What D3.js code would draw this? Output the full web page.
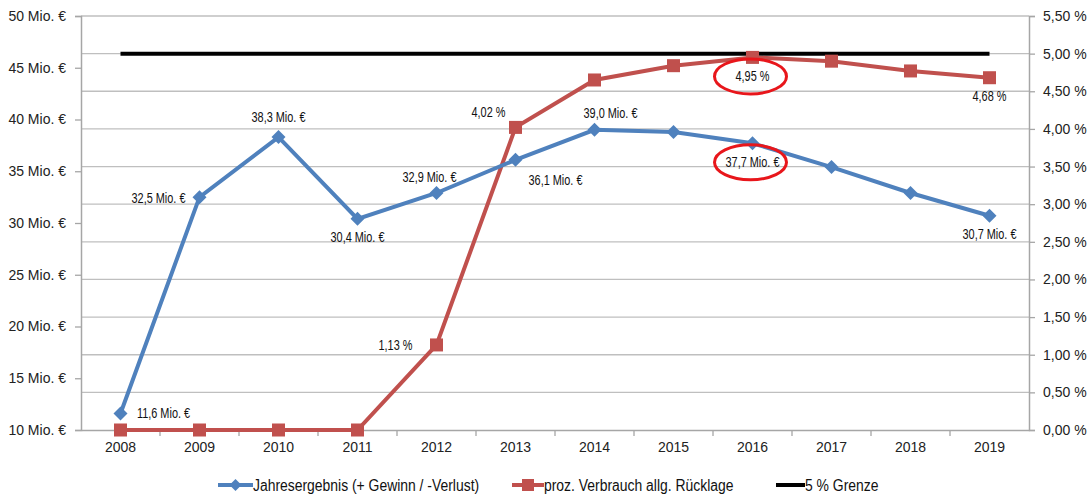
<!DOCTYPE html>
<html>
<head>
<meta charset="utf-8">
<script src="https://cdn.jsdelivr.net/npm/d3@7"></script>
<style>
  body { margin: 0; background: #fff; }
  svg { display: block; font-family: "Liberation Sans", Arial, sans-serif; }
</style>
</head>
<body>
<div id="chart"></div>
<script>
// Data
const years = ['2008', '2009', '2010', '2011', '2012', '2013', '2014', '2015', '2016', '2017', '2018', '2019'];
const ergebnis = [11.6, 32.5, 38.3, 30.4, 32.9, 36.1, 39.0, 38.8, 37.7, 35.4, 32.9, 30.7];
const verbrauch = [0, 0, 0, 0, 1.13, 4.02, 4.65, 4.84, 4.95, 4.90, 4.77, 4.68];
const grenze = years.map(() => 5);
const leftTicks = [10, 15, 20, 25, 30, 35, 40, 45, 50];
const rightTicks = [0, 0.5, 1, 1.5, 2, 2.5, 3, 3.5, 4, 4.5, 5, 5.5];
const legendNames = ['Jahresergebnis (+ Gewinn / -Verlust)', 'proz. Verbrauch allg. Rücklage', '5 % Grenze'];

// which points carry a label, and where the label sits
const ergebnisLabels = [
  { year: '2008', at: 'right' }, { year: '2009', at: 'left' }, { year: '2010', at: 'above' },
  { year: '2011', at: 'below' }, { year: '2012', at: 'aboveleft' }, { year: '2013', at: 'belowright' },
  { year: '2014', at: 'aboveright' }, { year: '2016', at: 'below', circled: true }, { year: '2019', at: 'below' }
];
const verbrauchLabels = [
  { year: '2012', at: 'left' }, { year: '2013', at: 'aboveleftfar' },
  { year: '2016', at: 'below', circled: true }, { year: '2019', at: 'below' }
];

const W = 1089, H = 494;
const plot = { left: 81, right: 1029, top: 16, bottom: 430 };
const blue = '#4f81bd', red = '#c0504d', grid = '#bfbfbf', axisCol = '#a6a6a6';

const svg = d3.select('#chart').append('svg').attr('width', W).attr('height', H);

const x = d3.scaleBand().domain(years).range([plot.left, plot.right]);
const cx = d3.scalePoint().domain(years).range([plot.left + x.bandwidth() / 2, plot.right - x.bandwidth() / 2]);
const yL = d3.scaleLinear().domain([10, 50]).range([plot.bottom, plot.top]);
const yR = d3.scaleLinear().domain([0, 5.5]).range([plot.bottom, plot.top]);

const fmt1 = d3.format('.1f');
const fmt2 = d3.format('.2f');
const de = s => s.replace('.', ',');

// gridlines (follow right axis)
svg.append('g').selectAll('line')
  .data(rightTicks.filter(d => d > 0))
  .join('line')
  .attr('x1', plot.left).attr('x2', plot.right)
  .attr('y1', d => yR(d)).attr('y2', d => yR(d))
  .attr('stroke', grid).attr('stroke-width', 1.3);

// left axis
const gL = svg.append('g').attr('transform', `translate(${plot.left},0)`)
  .call(d3.axisLeft(yL).tickValues(leftTicks).tickSize(6).tickPadding(9).tickFormat(d => `${d} Mio. €`));
// right axis
const gR = svg.append('g').attr('transform', `translate(${plot.right},0)`)
  .call(d3.axisRight(yR).tickValues(rightTicks).tickSize(6).tickPadding(8).tickFormat(d => `${de(fmt2(d))} %`));
// bottom axis: ticks between categories
const gB = svg.append('g').attr('transform', `translate(0,${plot.bottom})`)
  .call(d3.axisBottom(x).tickSize(0).tickPadding(12));
gB.append('g').selectAll('line')
  .data(years.slice(1))
  .join('line')
  .attr('x1', d => x(d)).attr('x2', d => x(d))
  .attr('y1', 0).attr('y2', 6)
  .attr('stroke', axisCol).attr('stroke-width', 1.3);

[gL, gR, gB].forEach(g => {
  g.select('.domain').attr('stroke', axisCol).attr('stroke-width', 1.5);
  g.selectAll('.tick line').attr('stroke', axisCol).attr('stroke-width', 1.3);
  g.selectAll('text').attr('fill', '#222').style('font-size', '14px');
});

// 5 % line
svg.append('path')
  .datum(years.map((y, i) => [cx(y), yR(grenze[i])]))
  .attr('d', d3.line())
  .attr('fill', 'none').attr('stroke', '#000').attr('stroke-width', 4);

// red series
svg.append('path')
  .datum(years.map((y, i) => [cx(y), yR(verbrauch[i])]))
  .attr('d', d3.line())
  .attr('fill', 'none').attr('stroke', red).attr('stroke-width', 4);
svg.append('g').selectAll('rect')
  .data(years.map((y, i) => [cx(y), yR(verbrauch[i])]))
  .join('rect')
  .attr('x', d => d[0] - 6.5).attr('y', d => d[1] - 6.5)
  .attr('width', 13).attr('height', 13)
  .attr('fill', red);

// blue series
svg.append('path')
  .datum(years.map((y, i) => [cx(y), yL(ergebnis[i])]))
  .attr('d', d3.line())
  .attr('fill', 'none').attr('stroke', blue).attr('stroke-width', 4);
svg.append('g').selectAll('path')
  .data(years.map((y, i) => [cx(y), yL(ergebnis[i])]))
  .join('path')
  .attr('transform', d => `translate(${d[0]},${d[1]})`)
  .attr('d', 'M0,-7L7,0L0,7L-7,0Z')
  .attr('fill', blue);

// label placement offsets (text centre relative to point)
const offsets = {
  right: [43, 0], left: [-41, 1], above: [0, -20], below: [0, 19],
  aboveleft: [-7, -15], belowright: [40, 21], aboveright: [16, -16], aboveleftfar: [-27, -15]
};

function drawLabels(list, values, yScale, text) {
  list.forEach(l => {
    const i = years.indexOf(l.year);
    const px = cx(l.year), py = yScale(values[i]);
    const [dx, dy] = offsets[l.at];
    if (l.circled) {
      svg.append('ellipse')
        .attr('cx', px + dx - 2).attr('cy', py + dy)
        .attr('rx', 36).attr('ry', 17.5)
        .attr('fill', 'none').attr('stroke', '#e8161b').attr('stroke-width', 3);
    }
    // squeezed horizontally to look like a condensed face
    svg.append('text')
      .attr('transform', `translate(${px + dx},${py + dy}) scale(0.78,1)`)
      .attr('text-anchor', 'middle').attr('dominant-baseline', 'central')
      .attr('fill', '#111').style('font-size', '14px')
      .text(text(values[i]));
  });
}
drawLabels(ergebnisLabels, ergebnis, yL, v => `${de(fmt1(v))} Mio. €`);
drawLabels(verbrauchLabels, verbrauch, yR, v => `${de(fmt2(v))} %`);

// legend
const legendColors = [blue, red, '#000'];
const legendX = [218, 512, 776];
const legendLen = [35, 32, 29];
const legend = svg.append('g').attr('transform', 'translate(0,485)');
legendNames.forEach((name, i) => {
  const g = legend.append('g').attr('transform', `translate(${legendX[i]},0)`);
  g.append('line').attr('x1', 0).attr('x2', legendLen[i]).attr('y1', 0).attr('y2', 0)
    .attr('stroke', legendColors[i]).attr('stroke-width', 4);
  if (i === 0) g.append('path').attr('transform', `translate(${legendLen[i] / 2},0)`).attr('d', 'M0,-6L6,0L0,6L-6,0Z').attr('fill', blue);
  if (i === 1) g.append('rect').attr('x', legendLen[i] / 2 - 6).attr('y', -6).attr('width', 12).attr('height', 12).attr('fill', red);
  g.append('text')
    .attr('transform', `translate(${legendLen[i]},0) scale(0.87,1)`)
    .attr('dominant-baseline', 'central')
    .attr('fill', '#111').style('font-size', '16px').text(name);
});
</script>
</body>
</html>
